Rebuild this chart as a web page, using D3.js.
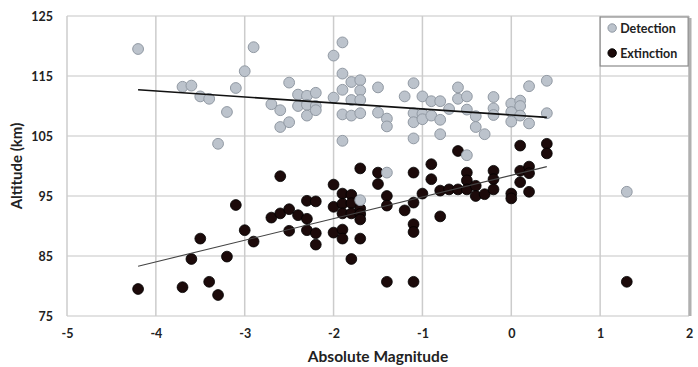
<!DOCTYPE html>
<html>
<head>
<meta charset="utf-8">
<script src="https://cdn.jsdelivr.net/npm/d3@7"></script>
<style>
  body { margin: 0; background: #fff; }
  text { font-family: Lato, "Open Sans", sans-serif; font-weight: bold; fill: #222; }
</style>
</head>
<body>
<div id="chart"></div>
<script>
// Detection points (absolute magnitude, altitude km)
const detMag = [-4.2,-3.7,-3.6,-3.5,-3.4,-3.3,-3.2,-3.1,-3.0,-2.9,
  -2.7,-2.6,-2.6,-2.5,-2.5,-2.4,-2.4,-2.3,-2.3,-2.3,-2.2,-2.2,-2.2,
  -2.0,-2.0,-1.9,-1.9,-1.9,-1.9,-1.9,-1.8,-1.8,-1.8,-1.7,-1.7,-1.7,-1.7,-1.7,
  -1.5,-1.5,-1.4,-1.4,-1.4,
  -1.2,-1.1,-1.1,-1.1,-1.1,-1.0,-1.0,-1.0,-0.9,-0.9,-0.8,-0.8,-0.8,
  -0.7,-0.6,-0.6,-0.5,-0.5,-0.5,-0.4,-0.4,-0.3,-0.2,-0.2,-0.2,
  0.0,0.0,0.0,0.1,0.1,0.1,0.2,0.2,0.4,0.4,1.3];
const detAlt = [119.5,113.2,113.4,111.6,111.2,103.7,109.0,113.0,115.8,119.8,
  110.3,109.3,106.5,113.9,107.3,111.9,110.0,111.7,110.2,108.4,112.2,110.0,109.3,
  118.4,111.4,120.6,115.4,112.7,108.6,104.2,114.0,111.0,108.4,114.3,112.6,111.0,108.8,94.3,
  113.1,108.9,107.9,106.6,98.9,
  111.6,113.8,108.8,107.3,104.6,111.6,108.7,107.8,110.8,108.4,110.8,107.7,105.3,
  109.5,113.1,111.2,111.6,109.4,101.8,108.3,106.5,105.3,111.5,109.6,108.5,
  110.4,109.0,107.4,110.9,110.0,108.4,113.3,107.1,114.2,108.8,95.7];

// Extinction points
const extMag = [-4.2,-3.7,-3.6,-3.5,-3.4,-3.3,-3.2,-3.1,-3.0,-2.9,
  -2.7,-2.6,-2.6,-2.5,-2.5,-2.4,-2.3,-2.3,-2.3,-2.2,-2.2,-2.2,
  -2.0,-2.0,-2.0,-1.9,-1.9,-1.9,-1.9,-1.9,-1.8,-1.8,-1.8,-1.8,-1.7,-1.7,-1.7,-1.7,-1.7,
  -1.5,-1.5,-1.4,-1.4,-1.4,
  -1.2,-1.1,-1.1,-1.1,-1.1,-1.1,-1.0,-0.9,-0.9,-0.8,-0.8,-0.7,
  -0.6,-0.6,-0.5,-0.5,-0.5,-0.4,-0.4,-0.3,-0.2,-0.2,-0.2,
  0.0,0.0,0.1,0.1,0.1,0.2,0.2,0.2,0.4,0.4,1.3];
const extAlt = [79.5,79.8,84.5,87.9,80.7,78.5,84.9,93.5,89.3,87.4,
  91.4,98.3,92.1,92.8,89.2,91.8,94.2,91.2,89.3,94.1,88.8,86.9,
  96.9,93.2,88.9,95.4,93.7,92.1,89.4,87.9,95.2,93.8,92.1,84.5,99.6,92.9,92.0,91.1,87.9,
  98.9,97.0,95.0,93.4,80.7,
  92.6,98.9,93.9,90.3,89.0,80.7,95.4,100.3,97.8,95.9,91.6,96.1,
  102.5,96.1,98.9,97.6,96.1,96.7,95.0,95.3,99.2,97.8,96.1,
  95.4,94.6,103.4,99.2,97.3,99.9,98.8,95.7,103.7,102.1,80.7];

// Linear trendlines, endpoints
const detTrendMag = [-4.2, 0.4];
const detTrendAlt = [112.7, 108.1];
const extTrendMag = [-4.2, 0.4];
const extTrendAlt = [83.3, 99.9];

const xTicks = [-5, -4, -3, -2, -1, 0, 1, 2];
const yTicks = [75, 85, 95, 105, 115, 125];
const seriesNames = ["Detection", "Extinction"];

const width = 698, height = 367;
const marginLeft = 67, marginRight = 8, marginTop = 16, marginBottom = 51;

const svg = d3.select("#chart").append("svg")
  .attr("width", width)
  .attr("height", height)
  .attr("viewBox", [0, 0, width, height]);

const x = d3.scaleLinear().domain([-5, 2]).range([marginLeft, width - marginRight - 1]);
const y = d3.scaleLinear().domain([75, 125]).range([height - marginBottom, marginTop]);

// gridlines
svg.append("g")
  .attr("stroke", "#d8d8d8")
  .attr("stroke-width", 1.5)
  .selectAll("line.h")
  .data(yTicks)
  .join("line")
    .attr("x1", x(-5)).attr("x2", x(2))
    .attr("y1", d => y(d)).attr("y2", d => y(d));

svg.append("g")
  .attr("stroke", "#cccccc")
  .attr("stroke-width", 1.5)
  .selectAll("line.v")
  .data(xTicks)
  .join("line")
    .attr("x1", d => x(d)).attr("x2", d => x(d))
    .attr("y1", y(125)).attr("y2", y(75));

// right border shadow
svg.append("line")
  .attr("x1", x(2) + 1).attr("x2", x(2) + 1)
  .attr("y1", y(125) + 2).attr("y2", y(75))
  .attr("stroke", "#b0b0b0")
  .attr("stroke-width", 3);

// axes (labels only)
const gx = svg.append("g")
  .attr("transform", `translate(0,${y(75)})`)
  .call(d3.axisBottom(x).tickValues(xTicks).tickSize(0).tickPadding(13).tickFormat(d => String(d)));
gx.select(".domain").remove();
gx.selectAll("text")
  .attr("font-size", 12.5).attr("font-family", "Lato, sans-serif")
  .attr("font-weight", 900).attr("fill", "#111");

const gy = svg.append("g")
  .attr("transform", `translate(${x(-5)},0)`)
  .call(d3.axisLeft(y).tickValues(yTicks).tickSize(0).tickPadding(14).tickFormat(d => String(d)));
gy.select(".domain").remove();
gy.selectAll("text")
  .attr("font-size", 12.5).attr("font-family", "Lato, sans-serif")
  .attr("font-weight", 900).attr("fill", "#111");

// axis titles
svg.append("text")
  .attr("x", (x(-5) + x(2)) / 2)
  .attr("y", 362)
  .attr("text-anchor", "middle")
  .attr("font-size", 15.5)
  .text("Absolute Magnitude");

svg.append("text")
  .attr("transform", `translate(22,${(y(75) + y(125)) / 2}) rotate(-90)`)
  .attr("text-anchor", "middle")
  .attr("font-size", 15)
  .text("Altitude (km)");

const r = 5.4;

// extinction points
svg.append("g")
  .selectAll("circle")
  .data(d3.zip(extMag, extAlt))
  .join("circle")
    .attr("cx", d => x(d[0]))
    .attr("cy", d => y(d[1]))
    .attr("r", r)
    .attr("fill", "#1c0a0a")
    .attr("stroke", "#000")
    .attr("stroke-width", 0.8);

// detection points
svg.append("g")
  .selectAll("circle")
  .data(d3.zip(detMag, detAlt))
  .join("circle")
    .attr("cx", d => x(d[0]))
    .attr("cy", d => y(d[1]))
    .attr("r", r)
    .attr("fill", "#bcc3cc")
    .attr("stroke", "#9199a3")
    .attr("stroke-width", 1);

// trendlines
const line = d3.line().x(d => x(d[0])).y(d => y(d[1]));
svg.append("path")
  .datum(d3.zip(detTrendMag, detTrendAlt))
  .attr("d", line)
  .attr("fill", "none")
  .attr("stroke", "#111")
  .attr("stroke-width", 1.6);
svg.append("path")
  .datum(d3.zip(extTrendMag, extTrendAlt))
  .attr("d", line)
  .attr("fill", "none")
  .attr("stroke", "#444")
  .attr("stroke-width", 1.1);

// legend
const legend = svg.append("g").attr("transform", `translate(${x(1)},${y(125) + 1})`);
legend.append("rect")
  .attr("width", 88).attr("height", 49)
  .attr("fill", "#fff")
  .attr("stroke", "#8a8a8a")
  .attr("stroke-width", 1.2);
const items = legend.selectAll("g.item")
  .data(seriesNames)
  .join("g")
    .attr("transform", (d, i) => `translate(0,${11 + i * 25})`);
items.append("circle")
  .attr("cx", 12).attr("cy", 0).attr("r", 4.2)
  .attr("fill", (d, i) => i === 0 ? "#bcc3cc" : "#1c0a0a")
  .attr("stroke", (d, i) => i === 0 ? "#9199a3" : "#000");
items.append("text")
  .attr("x", 20).attr("y", 4.5)
  .attr("font-size", 12.5)
  .text(d => d);
</script>
</body>
</html>
